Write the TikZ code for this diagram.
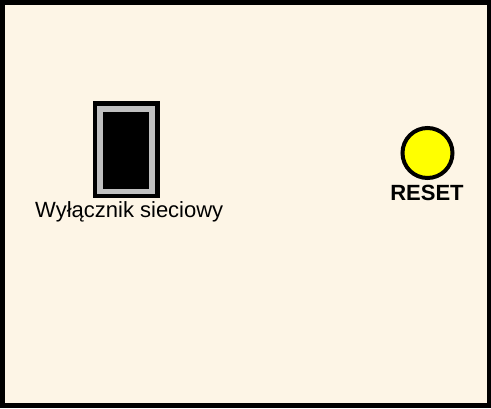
\documentclass[tikz,border=0pt]{standalone}
\usepackage{fontspec}
\setmainfont{Liberation Sans}
\definecolor{cream}{HTML}{FDF5E6}
\definecolor{swgray}{HTML}{C0C0C0}
\definecolor{ledyellow}{HTML}{FFFF00}
\begin{document}
\begin{tikzpicture}[x=1pt,y=-1pt,
  lbl/.style={font=\fontsize{22}{25}\selectfont, inner sep=0pt, text=black}]
\useasboundingbox (0,0) rectangle (491,408);
\fill[black] (0,0) rectangle (491,408);
\fill[cream] (5,5) rectangle (487,403);
% switch
\fill[black] (93,101) rectangle (160,198);
\fill[swgray] (97,106) rectangle (155,194);
\fill[black] (103,112) rectangle (149,189);
\node[lbl, anchor=base west] (sw) at (35,217) {Wyłącznik sieciowy};
% reset
\node[circle, draw=black, line width=4pt, fill=ledyellow, minimum size=50pt, inner sep=0pt] (led) at (427.5,153) {};
\node[lbl, font=\fontsize{22}{25}\selectfont\bfseries, anchor=base] (rst) at (427,200) {RESET};
\end{tikzpicture}
\end{document}
